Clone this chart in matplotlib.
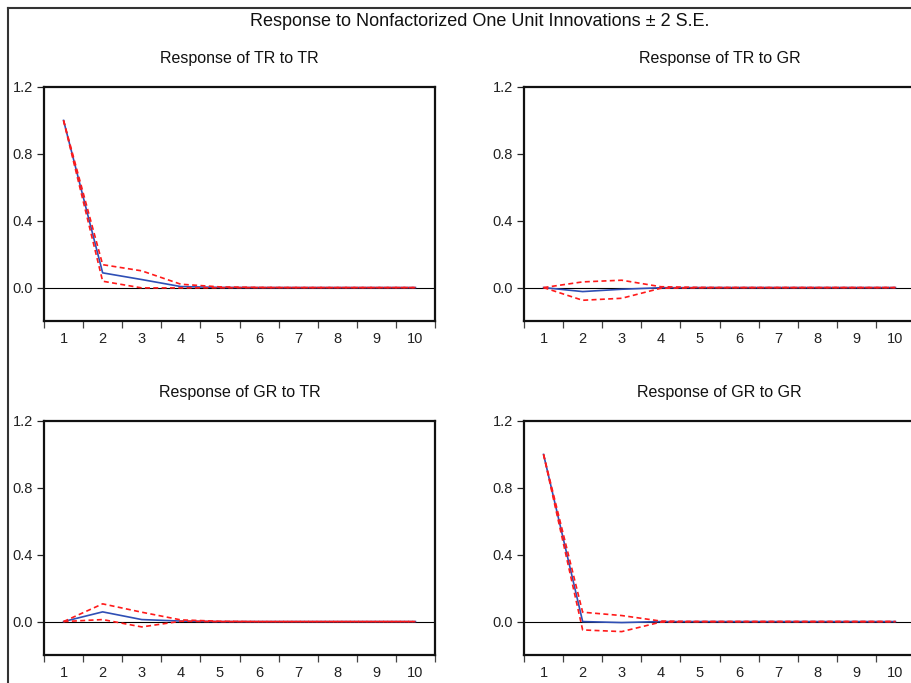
import numpy as np
import matplotlib
matplotlib.use("Agg")
import matplotlib.pyplot as plt
from matplotlib.lines import Line2D

plt.rcParams['font.family'] = ['Liberation Sans', 'DejaVu Sans']

# --- Дані ---
periods = [1, 2, 3, 4, 5, 6, 7, 8, 9, 10]

tr_tr = [1.0, 0.088, 0.048, 0.006, 0.001, 0.0, 0.0, 0.0, 0.0, 0.0]
tr_tr_up = [1.0, 0.137, 0.100, 0.020, 0.004, 0.001, 0.0, 0.0, 0.0, 0.0]
tr_tr_lo = [1.0, 0.038, -0.002, -0.002, -0.001, 0.0, 0.0, 0.0, 0.0, 0.0]

tr_gr = [0.0, -0.024, -0.010, -0.001, 0.0, 0.0, 0.0, 0.0, 0.0, 0.0]
tr_gr_up = [0.0, 0.034, 0.044, 0.005, 0.001, 0.0, 0.0, 0.0, 0.0, 0.0]
tr_gr_lo = [0.0, -0.076, -0.064, -0.004, -0.001, 0.0, 0.0, 0.0, 0.0, 0.0]

gr_tr = [0.0, 0.058, 0.012, 0.003, 0.0, 0.0, 0.0, 0.0, 0.0, 0.0]
gr_tr_up = [0.0, 0.106, 0.056, 0.010, 0.002, 0.0, 0.0, 0.0, 0.0, 0.0]
gr_tr_lo = [0.0, 0.012, -0.032, 0.002, 0.0, 0.0, 0.0, 0.0, 0.0, 0.0]

gr_gr = [1.0, 0.0, -0.006, 0.0, 0.0, 0.0, 0.0, 0.0, 0.0, 0.0]
gr_gr_up = [1.0, 0.056, 0.036, 0.003, 0.0, 0.0, 0.0, 0.0, 0.0, 0.0]
gr_gr_lo = [1.0, -0.050, -0.060, -0.003, 0.0, 0.0, 0.0, 0.0, 0.0, 0.0]

titles = ["Response of TR to TR", "Response of TR to GR",
          "Response of GR to TR", "Response of GR to GR"]
y_ticks = [0.0, 0.4, 0.8, 1.2]
y_tick_labels = ["0.0", "0.4", "0.8", "1.2"]

panels = [
    (tr_tr, tr_tr_up, tr_tr_lo),
    (tr_gr, tr_gr_up, tr_gr_lo),
    (gr_tr, gr_tr_up, gr_tr_lo),
    (gr_gr, gr_gr_up, gr_gr_lo),
]

W, H = 911, 683
fig = plt.figure(figsize=(W / 100, H / 100), dpi=100)

# позиції панелей у пікселях: (ліво, верх)
boxes = [(44, 87), (524, 87), (44, 421), (524, 421)]
ax_w, ax_h = 391, 234

for (left, top), title, (mid, up, lo) in zip(boxes, titles, panels):
    ax = fig.add_axes([left / W, 1 - (top + ax_h) / H, ax_w / W, ax_h / H])
    ax.axhline(0, color='black', lw=0.8, zorder=1)
    ax.plot(periods, mid, color='#2f4fb5', lw=1.2, zorder=3)
    ax.plot(periods, up, color='#ff1a1a', lw=1.2, ls=(0, (3, 2)), zorder=4)
    ax.plot(periods, lo, color='#ff1a1a', lw=1.2, ls=(0, (3, 2)), zorder=4)

    ax.set_xlim(0.5, 10.5)
    ax.set_ylim(-0.2, 1.2)
    ax.set_xticks(periods)
    ax.set_xticks(np.arange(0.5, 11, 1.0), minor=True)
    ax.set_yticks(y_ticks)
    ax.set_yticklabels(y_tick_labels)
    ax.tick_params(axis='x', which='major', length=0, pad=8, labelsize=10.5,
                   colors='#222222')
    ax.tick_params(axis='x', which='minor', length=5, width=0.9, direction='out',
                   color='#444444')
    ax.tick_params(axis='y', which='major', length=5, width=0.9, direction='out',
                   labelsize=10.5, pad=3, colors='#222222')
    for s in ax.spines.values():
        s.set_linewidth(1.6)
        s.set_color('#111111')
    ax.set_title(title, fontsize=11.5, pad=17, color='#111111')

fig.text(480 / W, 1 - 22 / H, "Response to Nonfactorized One Unit Innovations \u00b1 2 S.E.",
         ha='center', va='center', fontsize=13, color='#111111')

# рамка навколо всього графіка
fig.add_artist(Line2D([8 / W, 1.0], [1 - 8 / H, 1 - 8 / H], color='#333333', lw=1.5))
fig.add_artist(Line2D([8 / W, 8 / W], [0.0, 1 - 8 / H], color='#333333', lw=1.5))

fig.savefig("out.png", dpi=100)
